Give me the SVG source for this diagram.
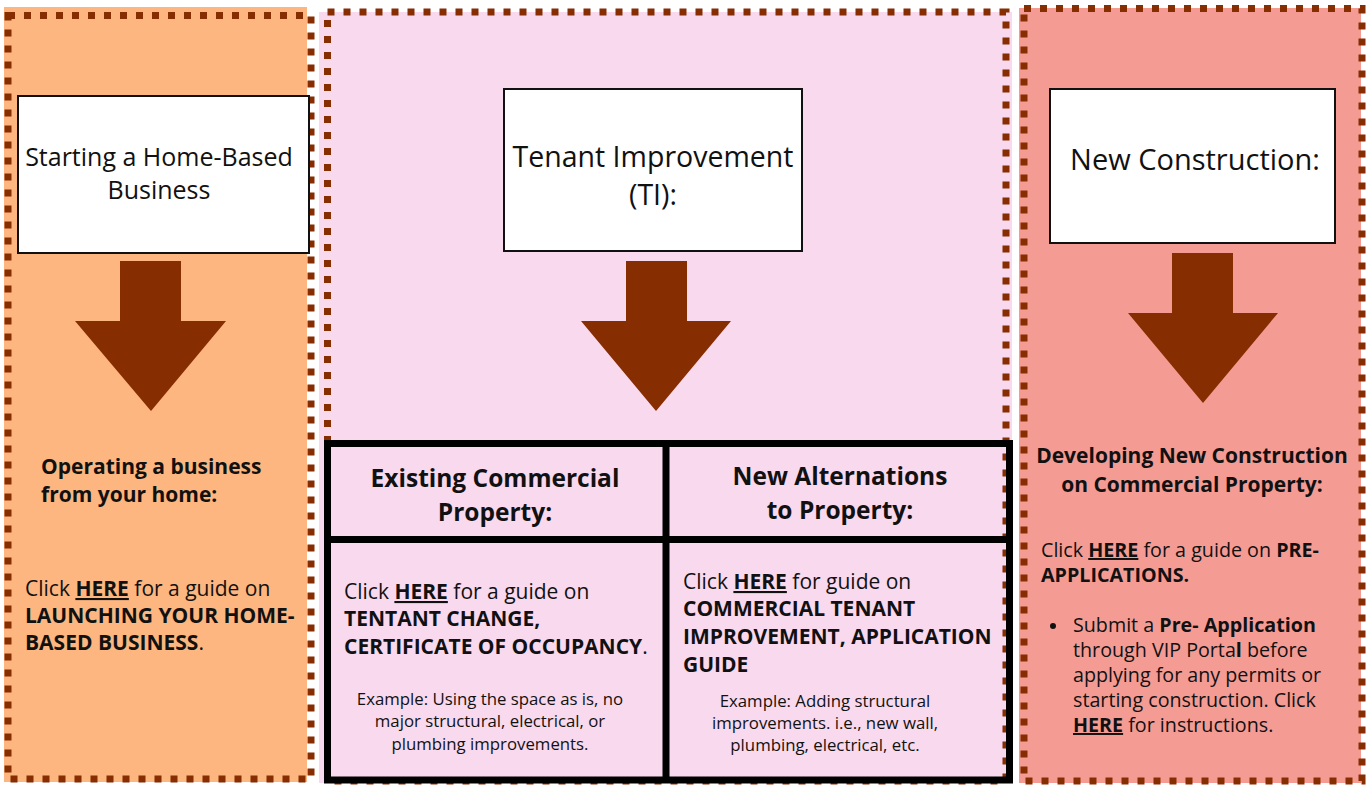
<svg xmlns="http://www.w3.org/2000/svg" width="1366" height="786" viewBox="0 0 1366 786">
<style>
.dots{fill:none;stroke:#862D02;stroke-width:7;stroke-dasharray:7 9}
.box{fill:#fff;stroke:#111;stroke-width:2}
.arrow{fill:#862D02}
.t{font-family:"Open Sans","Liberation Sans",sans-serif;fill:#111}
.b{font-weight:bold}
.body{font-size:21px}
.rbody{font-size:19.7px}
.head{font-size:24.5px;font-weight:bold}
.small{font-size:16.8px}
.u{text-decoration:underline;font-weight:bold}
.grid{fill:none;stroke:#000;stroke-width:7}
</style>
<rect width="1366" height="786" fill="#fff"/>
<g id="panel-home">
<rect x="4" y="7" width="303" height="775" fill="#FDB67F"/>
<rect class="dots" x="8" y="15.5" width="303" height="763.5"/>
<rect class="box" x="18" y="96" width="291" height="157"/>
<text class="t" font-size="25" text-anchor="middle" x="159" y="166">Starting a Home-Based</text>
<text class="t" font-size="25" text-anchor="middle" x="159" y="199">Business</text>
<polygon class="arrow" points="120,261 181,261 181,321 226,321 151,411 75,321 120,321"/>
<text class="t body b" x="41" y="474">Operating a business</text>
<text class="t body b" x="41" y="502">from your home:</text>
<text class="t body" x="25" y="596">Click <tspan class="u">HERE</tspan> for a guide on</text>
<text class="t body b" x="25" y="623">LAUNCHING YOUR HOME-</text>
<text class="t body" x="25" y="650"><tspan class="b">BASED BUSINESS</tspan>.</text>
</g>
<g id="panel-ti">
<rect x="319" y="12" width="693" height="771" fill="#F9D9EE"/>
<rect class="dots" x="327.5" y="12" width="678.5" height="769"/>
<rect class="box" x="504" y="89" width="298" height="162"/>
<text class="t" font-size="28.5" text-anchor="middle" x="653" y="167">Tenant Improvement</text>
<text class="t" font-size="28.5" text-anchor="middle" x="653" y="205">(TI):</text>
<polygon class="arrow" points="626,261 687,261 687,321 731,321 656,411 581,321 626,321"/>
</g>
<g id="table">
<rect class="grid" x="327.5" y="443.5" width="682" height="336.5"/>
<line class="grid" x1="666" y1="443" x2="666" y2="780"/>
<line class="grid" x1="327" y1="539.5" x2="1010" y2="539.5"/>
</g>
<g id="cell-existing">
<text class="t head" text-anchor="middle" x="495" y="487">Existing Commercial</text>
<text class="t head" text-anchor="middle" x="495" y="521">Property:</text>
<text class="t body" x="344" y="599">Click <tspan class="u">HERE</tspan> for a guide on</text>
<text class="t body b" x="344" y="626">TENTANT CHANGE,</text>
<text class="t body" x="344" y="654"><tspan class="b">CERTIFICATE OF OCCUPANCY</tspan>.</text>
<text class="t small" text-anchor="middle" x="490" y="705">Example: Using the space as is, no</text>
<text class="t small" text-anchor="middle" x="490" y="727">major structural, electrical, or</text>
<text class="t small" text-anchor="middle" x="490" y="750">plumbing improvements.</text>
</g>
<g id="cell-new-alterations">
<text class="t head" text-anchor="middle" x="840" y="485">New Alternations</text>
<text class="t head" text-anchor="middle" x="840" y="519">to Property:</text>
<text class="t body" x="683" y="589">Click <tspan class="u">HERE</tspan> for guide on</text>
<text class="t body b" x="683" y="616">COMMERCIAL TENANT</text>
<text class="t body b" x="683" y="644">IMPROVEMENT, APPLICATION</text>
<text class="t body b" x="683" y="672">GUIDE</text>
<text class="t small" text-anchor="middle" x="825" y="707">Example: Adding structural</text>
<text class="t small" text-anchor="middle" x="825" y="729">improvements. i.e., new wall,</text>
<text class="t small" text-anchor="middle" x="825" y="751">plumbing, electrical, etc.</text>
</g>
<g id="panel-new-construction">
<rect x="1019" y="8" width="342" height="775" fill="#F49C94"/>
<rect class="dots" x="1024" y="8.5" width="338" height="772.5"/>
<rect class="box" x="1050" y="89" width="285" height="154"/>
<text class="t" font-size="29" text-anchor="middle" x="1195" y="170">New Construction:</text>
<polygon class="arrow" points="1172,253 1233,253 1233,313 1278,313 1203,403 1128,313 1172,313"/>
<text class="t body b" text-anchor="middle" x="1192" y="463">Developing New Construction</text>
<text class="t body b" text-anchor="middle" x="1192" y="492">on Commercial Property:</text>
<text class="t rbody" x="1041" y="557">Click <tspan class="u">HERE</tspan> for a guide on <tspan class="b">PRE-</tspan></text>
<text class="t rbody b" x="1041" y="582">APPLICATIONS.</text>
<circle cx="1053" cy="626" r="3" fill="#111"/>
<text class="t rbody" x="1073" y="632">Submit a <tspan class="b">Pre- Application</tspan></text>
<text class="t rbody" x="1073" y="657">through VIP Porta<tspan class="b">l</tspan> before</text>
<text class="t rbody" x="1073" y="682">applying for any permits or</text>
<text class="t rbody" x="1073" y="707">starting construction. Click</text>
<text class="t rbody" x="1073" y="732"><tspan class="u">HERE</tspan> for instructions.</text>
</g>
</svg>
